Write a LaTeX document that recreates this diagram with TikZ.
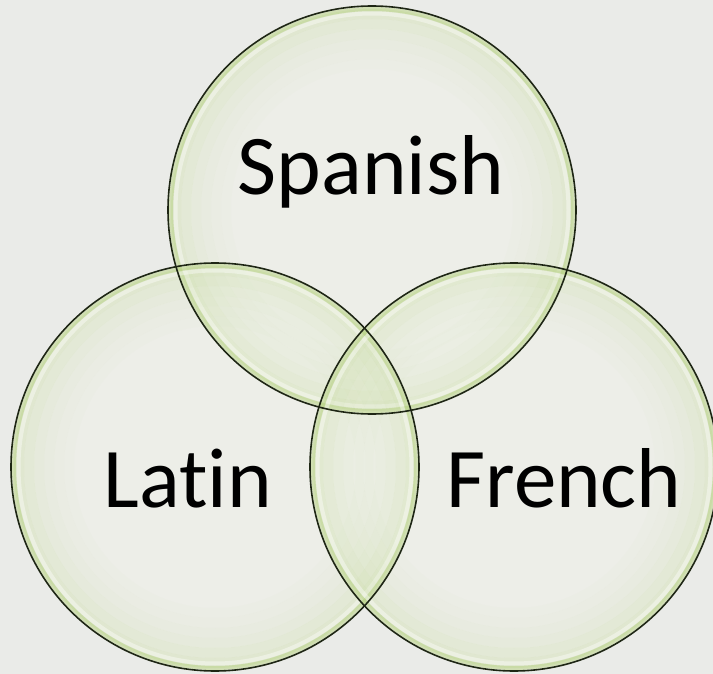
\documentclass[tikz,border=0pt]{standalone}
\usepackage{fontspec}
\setmainfont{Carlito}[Ligatures=NoCommon]
\usetikzlibrary{positioning}
\usepackage{xcolor}

\definecolor{paper}{HTML}{EAEBE8}
\definecolor{bubblein}{HTML}{F1F3EA}
\definecolor{bubblemid}{HTML}{C3D99A}
\definecolor{bubbleout}{HTML}{B4D07E}
\definecolor{rim}{HTML}{1E2614}

\begin{document}
\begin{tikzpicture}[x=1pt, y=-1pt]
                \tikzstyle{bubble} = [shape=circle, fill=bubblein, fill opacity=0.45, minimum size=408pt, inner sep=0pt];
                \tikzstyle{outline} = [shape=circle, draw=rim, line width=1.6pt, minimum size=408pt, inner sep=0pt];
                \tikzstyle{word} = [anchor=base, font=\fontsize{85}{90}\selectfont, text=black, inner sep=0pt];

                \fill[paper] (0,0) rectangle (713,674);
                \useasboundingbox (0,0) rectangle (713,674);

                \node[bubble](S) at (372,210) {};
                \node[bubble](L) at (215,467) {};
                \node[bubble](F) at (514,467) {};

                % greenish glow fading inwards, a pale shine and a green band at the edge
                \foreach \c in {S,L,F} {
                    \foreach \r/\o in {196/0.30, 186/0.22, 176/0.15, 166/0.10, 156/0.06, 146/0.03}
                        \draw[bubblemid, line width=10pt, draw opacity=\o] (\c) circle[radius=\r pt];
                    \draw[white, line width=4pt, draw opacity=0.4] (\c) circle[radius=196.5pt];
                    \draw[bubbleout, line width=4pt, draw opacity=0.5] (\c) circle[radius=201pt];
                }

                % dark outlines stay visible through every bubble
                \foreach \c in {S,L,F}
                    \node[outline] at (\c) {};

                \node[word](Stext) at (371,195) {Spanish};
                \node[word](Ltext) at (188,507) {Latin};
                \node[word](Ftext) at (564,507) {French};
            \end{tikzpicture}
\end{document}
